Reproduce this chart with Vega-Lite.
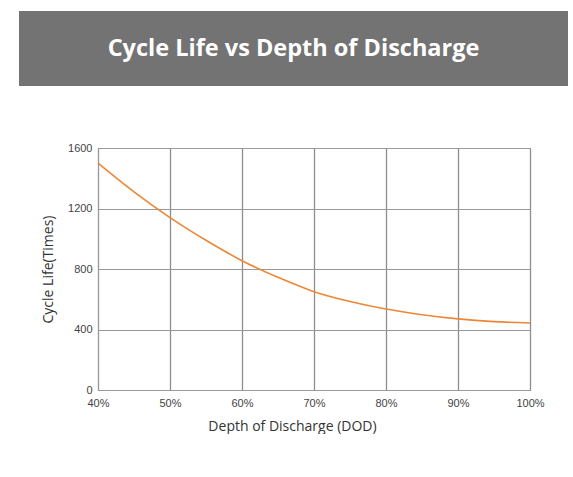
{
  "$schema": "https://vega.github.io/schema/vega-lite/v6.json",
  "background": "white",
  "padding": {"left": 19, "top": 11, "right": 0, "bottom": 0},
  "bounds": "flush",
  "spacing": 62,
  "config": {
    "view": {"stroke": "#999999"}
  },
  "vconcat": [
    {
      "width": 549,
      "height": 75,
      "data": {"values": [{"title": "Cycle Life vs Depth of Discharge"}]},
      "view": {"fill": "#737373", "stroke": null},
      "mark": {"type": "text", "font": "Open Sans", "fontWeight": "bold", "fontSize": 23.5, "color": "white", "align": "center", "baseline": "middle"},
      "encoding": {"text": {"field": "title", "type": "nominal"}}
    },
    {
      "bounds": "flush",
      "spacing": 0,
      "hconcat": [
        {
          "width": 79,
          "height": 242,
          "data": {"values": [{"blank": ""}]},
          "view": {"stroke": null},
          "mark": {"type": "text"},
          "encoding": {"text": {"field": "blank", "type": "nominal"}}
        },
        {
          "width": 432,
          "height": 242,
          "data": {"values": [
            {"dod": 0.40, "cycles": 1500},
            {"dod": 0.45, "cycles": 1310},
            {"dod": 0.50, "cycles": 1140},
            {"dod": 0.55, "cycles": 990},
            {"dod": 0.60, "cycles": 855},
            {"dod": 0.65, "cycles": 745},
            {"dod": 0.70, "cycles": 650},
            {"dod": 0.75, "cycles": 585},
            {"dod": 0.80, "cycles": 535},
            {"dod": 0.85, "cycles": 498},
            {"dod": 0.90, "cycles": 470},
            {"dod": 0.95, "cycles": 452},
            {"dod": 1.00, "cycles": 443}
          ]},
          "mark": {"type": "line", "color": "#EF8636", "strokeWidth": 1.6, "interpolate": "monotone"},
          "encoding": {
            "x": {
              "field": "dod", "type": "quantitative",
              "scale": {"domain": [0.4, 1], "nice": false, "zero": false},
              "axis": {
                "values": [0.4, 0.5, 0.6, 0.7, 0.8, 0.9, 1.0],
                "format": ".0%",
                "title": "Depth of Discharge (DOD)",
                "ticks": false,
                "labelFlush": false,
                "domainColor": "#999999",
                "gridColor": "#8c8c8c",
                "gridWidth": 1.3,
                "gridOpacity": 1,
                "labelPadding": 7,
                "labelFont": "Liberation Sans",
                "labelFontSize": 11,
                "labelColor": "#444444",
                "titleFont": "Open Sans",
                "titleFontSize": 14,
                "titleFontWeight": "normal",
                "titleColor": "#333333",
                "titlePadding": 11,
                "titleX": 194
              }
            },
            "y": {
              "field": "cycles", "type": "quantitative",
              "scale": {"domain": [0, 1600], "nice": false},
              "axis": {
                "values": [0, 400, 800, 1200, 1600],
                "format": "d",
                "title": "Cycle Life(Times)",
                "ticks": false,
                "labelFlush": false,
                "domainColor": "#999999",
                "gridColor": "#999999",
                "gridWidth": 1.2,
                "gridOpacity": 1,
                "labelPadding": 6,
                "labelFont": "Liberation Sans",
                "labelFontSize": 11,
                "labelColor": "#444444",
                "titleFont": "Open Sans",
                "titleFontSize": 14,
                "titleFontWeight": "normal",
                "titleColor": "#333333",
                "titlePadding": 12
              }
            }
          }
        }
      ]
    }
  ]
}
